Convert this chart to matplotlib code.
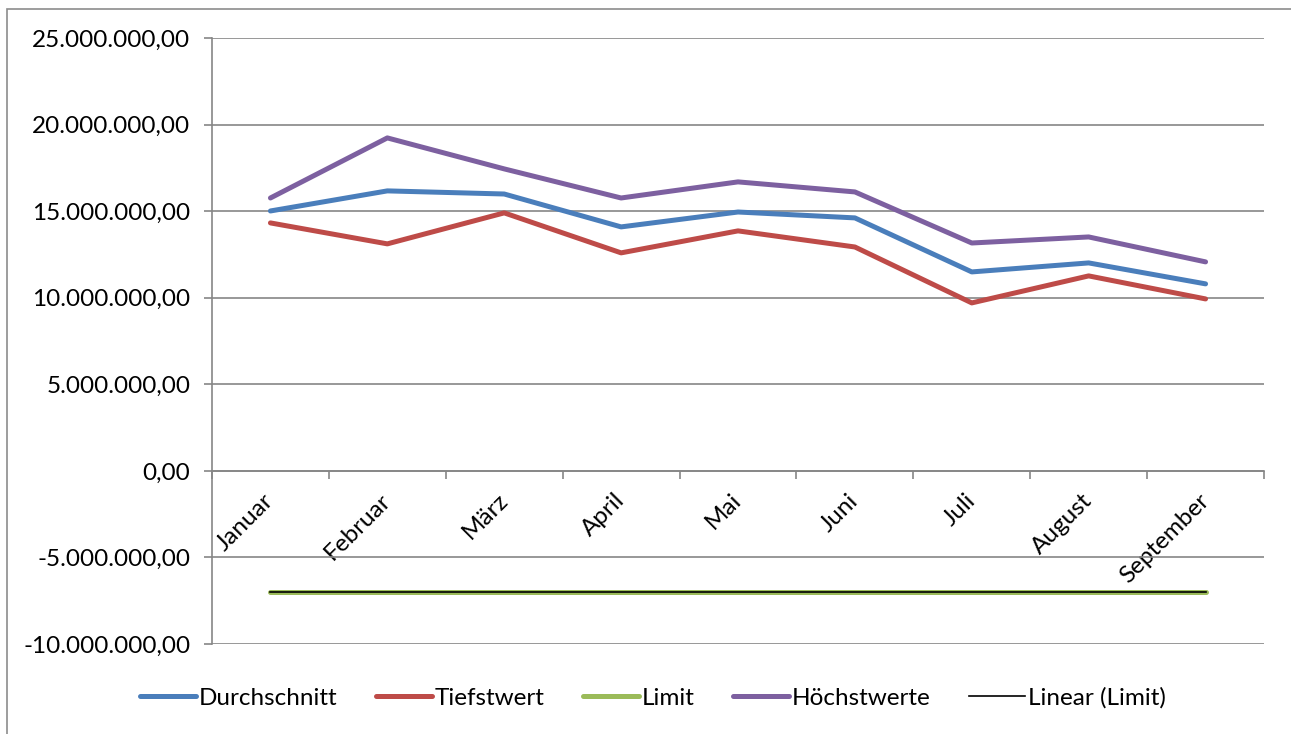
import matplotlib
matplotlib.use("Agg")
import matplotlib.pyplot as plt
from matplotlib.patches import Rectangle
from matplotlib.ticker import FuncFormatter, MultipleLocator
import numpy as np

plt.rcParams['font.family'] = ['Lato', 'DejaVu Sans']

months = ['Januar', 'Februar', 'März', 'April', 'Mai', 'Juni', 'Juli', 'August', 'September']
durchschnitt = [15.01e6, 16.17e6, 15.99e6, 14.09e6, 14.95e6, 14.61e6, 11.49e6, 12.01e6, 10.80e6]
tiefstwert = [14.32e6, 13.11e6, 14.90e6, 12.59e6, 13.86e6, 12.93e6, 9.70e6, 11.26e6, 9.93e6]
limit = [-7.0e6] * 9
hoechstwerte = [15.76e6, 19.23e6, 17.44e6, 15.76e6, 16.69e6, 16.11e6, 13.16e6, 13.51e6, 12.07e6]

fig = plt.figure(figsize=(12.91, 7.34), dpi=100)
ax = fig.add_axes([212 / 1291, 1 - 644 / 734, (1264 - 212) / 1291, (644 - 38) / 734])

# outer chart border
fig.patches.append(Rectangle((7 / 1291, -0.05), 1.1, 1 - 9 / 734 + 0.05, transform=fig.transFigure,
                             fill=False, edgecolor='#8c8c8c', linewidth=1.2))

x = np.arange(len(months)) + 0.5
ax.plot(x, durchschnitt, color='#4A7EBB', lw=3.6, label='Durchschnitt', solid_capstyle='round')
ax.plot(x, tiefstwert, color='#BE4B48', lw=3.6, label='Tiefstwert', solid_capstyle='round')
ax.plot(x, limit, color='#9BBB59', lw=3.6, label='Limit', solid_capstyle='round')
ax.plot(x, hoechstwerte, color='#7D60A0', lw=3.6, label='Höchstwerte', solid_capstyle='round')
# linear trend of Limit
coef = np.polyfit(x, limit, 1)
ax.plot(x, np.polyval(coef, x), color='black', lw=1.2, label='Linear (Limit)')

ax.set_xlim(0, 9)
ax.set_ylim(-10e6, 25e6)
ax.yaxis.set_major_locator(MultipleLocator(5e6))
ax.yaxis.set_major_formatter(FuncFormatter(
    lambda v, p: f"{v:,.2f}".replace(',', 'X').replace('.', ',').replace('X', '.')))
ax.grid(axis='y', color='#868686', lw=1.2)
ax.set_axisbelow(True)

for s in ['top', 'right']:
    ax.spines[s].set_visible(False)
ax.spines['left'].set_color('#868686')
ax.spines['left'].set_linewidth(1.2)
ax.spines['bottom'].set_position(('data', 0))
ax.spines['bottom'].set_color('#868686')
ax.spines['bottom'].set_linewidth(1.2)

ax.set_xticks(x)
ax.set_xticklabels(months, rotation=45, ha='right', va='center', rotation_mode='anchor')
ax.set_xticks(np.arange(0, 10), minor=True)
ax.tick_params(axis='x', which='major', length=0, pad=19, labelsize=17.5)
ax.tick_params(axis='x', which='minor', length=6, width=1.2, color='#868686', direction='out')
ax.tick_params(axis='y', length=6, width=1.2, color='#868686', labelsize=17.5, pad=9.5)

ax.legend(loc='center', bbox_to_anchor=((143 + 1163) / 2 / 1291, (734 - 698) / 734), bbox_transform=fig.transFigure,
          ncol=5, frameon=False, fontsize=17.5, handlelength=2.3, handletextpad=0.1, columnspacing=1.6)

fig.savefig('out.png', dpi=100)
